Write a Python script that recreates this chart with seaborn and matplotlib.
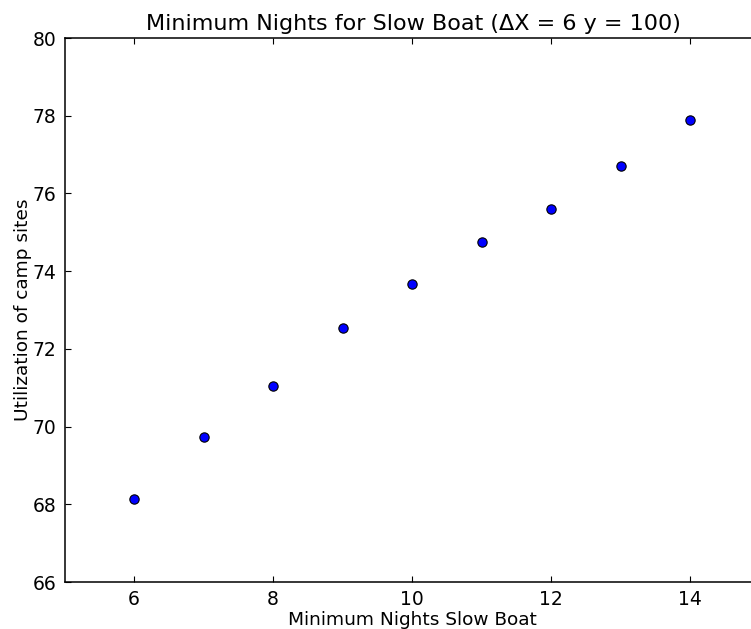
import matplotlib
matplotlib.use("Agg")
import matplotlib.pyplot as plt
import seaborn as sns
import pandas as pd

min_nights = [6, 7, 8, 9, 10, 11, 12, 13, 14]
utilization = [68.13, 69.73, 71.04, 72.53, 73.66, 74.74, 75.61, 76.71, 77.88]

plt.rcParams['font.family'] = ['DejaVu Sans']
plt.rcParams['xtick.direction'] = 'in'
plt.rcParams['ytick.direction'] = 'in'
plt.rcParams['xtick.top'] = True
plt.rcParams['ytick.right'] = True
plt.rcParams['xtick.major.size'] = 4.5
plt.rcParams['ytick.major.size'] = 4.5

df = pd.DataFrame({'nights': min_nights, 'util': utilization})

fig = plt.figure(figsize=(7.51, 6.29), dpi=100)
ax = fig.add_axes([64.5 / 751, 47 / 629, 695 / 751, 544 / 629])

sns.scatterplot(data=df, x='nights', y='util', ax=ax, color='#0000ff',
                edgecolor='black', linewidth=0.8, s=45, zorder=3)

ax.set_xlim(5, 15)
ax.set_ylim(66, 80)
ax.set_xticks([6, 8, 10, 12, 14])
ax.set_yticks([66, 68, 70, 72, 74, 76, 78, 80])
ax.tick_params(labelsize=13.5, pad=6)
for s in ax.spines.values():
    s.set_linewidth(1.1)

ax.set_xlabel('Minimum Nights Slow Boat', fontsize=13.3, labelpad=1)
ax.set_ylabel('Utilization of camp sites', fontsize=13.3, labelpad=0)
ax.set_title('Minimum Nights for Slow Boat (ΔX = 6 y = 100)', fontsize=16,
             x=(413 - 64.5) / 695, pad=6)

fig.savefig('out.png', dpi=100)
